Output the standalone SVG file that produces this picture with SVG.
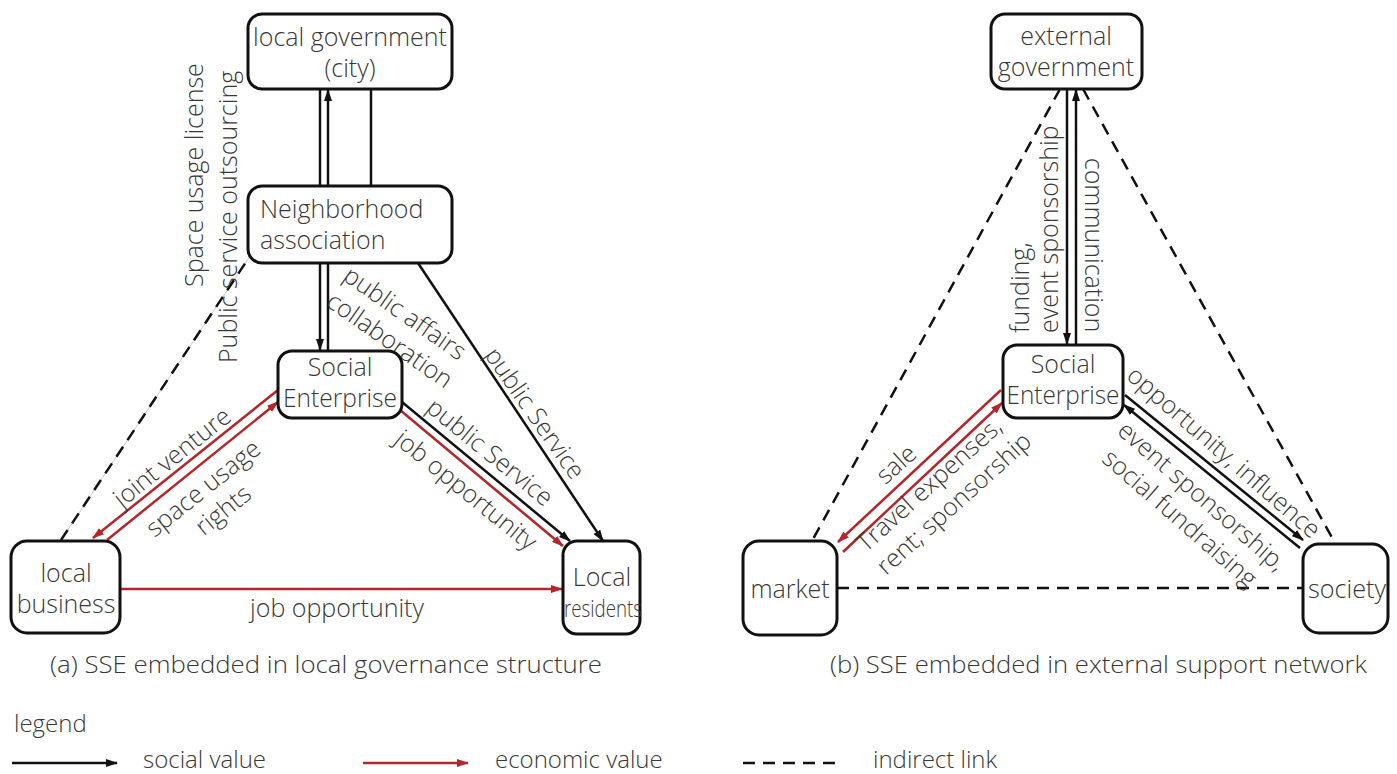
<svg xmlns="http://www.w3.org/2000/svg" width="1397" height="774" viewBox="0 0 1397 774">
<style>
  text{font-family:"Open Sans","Liberation Sans",sans-serif;font-size:25px;font-weight:300;fill:#383838}
  .c{text-anchor:middle}
  .box{fill:#fff;stroke:#111;stroke-width:3}
  .soc{stroke:#111;stroke-width:2.5;fill:none}
  .eco{stroke:#b5252a;stroke-width:2.5;fill:none}
  .ind{stroke:#111;stroke-width:2.5;fill:none;stroke-dasharray:12 8}
  .cap{font-size:23px}
  .lg{font-size:24px}
</style>
<defs>
  <marker id="ab" markerUnits="userSpaceOnUse" markerWidth="12" markerHeight="8" refX="11" refY="4" orient="auto">
    <path d="M0,0 L12,4 L0,8 z" fill="#111"/>
  </marker>
  <marker id="ar" markerUnits="userSpaceOnUse" markerWidth="12" markerHeight="8" refX="11" refY="4" orient="auto">
    <path d="M0,0 L12,4 L0,8 z" fill="#b5252a"/>
  </marker>
</defs>
<rect width="1397" height="774" fill="#fff"/>

<g id="connectors">
  <!-- (a) -->
  <line class="soc" x1="320" y1="89" x2="320" y2="350" marker-end="url(#ab)"/>
  <line class="soc" x1="328" y1="351" x2="328" y2="90" marker-end="url(#ab)"/>
  <line class="soc" x1="371" y1="89" x2="371" y2="186"/>
  <line x1="61" y1="540" x2="250" y2="256" stroke="#c8c8c8" stroke-width="1"/>
  <line class="ind" x1="61" y1="540" x2="250" y2="256"/>
  <line class="eco" x1="278" y1="390" x2="93" y2="538" marker-end="url(#ar)"/>
  <line class="eco" x1="107" y1="540" x2="278" y2="402" marker-end="url(#ar)"/>
  <line class="eco" x1="120" y1="589" x2="562" y2="589" marker-end="url(#ar)"/>
  <line class="soc" x1="402" y1="402" x2="570" y2="541" marker-end="url(#ab)"/>
  <line class="eco" x1="400" y1="410" x2="563" y2="546" marker-end="url(#ar)"/>
  <line class="soc" x1="418" y1="263" x2="603" y2="541" marker-end="url(#ab)"/>
  <!-- (b) -->
  <line class="soc" x1="1067" y1="89" x2="1067" y2="344" marker-end="url(#ab)"/>
  <line class="soc" x1="1076" y1="345" x2="1076" y2="90" marker-end="url(#ab)"/>
  <line class="ind" x1="1060" y1="89" x2="812" y2="541"/>
  <line class="ind" x1="1083" y1="89" x2="1335" y2="543"/>
  <line class="ind" x1="837" y1="588" x2="1303" y2="588"/>
  <line class="eco" x1="1001" y1="390" x2="838" y2="542" marker-end="url(#ar)"/>
  <line class="eco" x1="843" y1="552" x2="1002" y2="403" marker-end="url(#ar)"/>
  <line class="soc" x1="1125" y1="395" x2="1303" y2="540" marker-end="url(#ab)"/>
  <line class="soc" x1="1300" y1="548" x2="1124" y2="405" marker-end="url(#ab)"/>
</g>

<g id="edge-labels">
  <text transform="translate(203,287) rotate(-90)">Space usage license</text>
  <text transform="translate(237,363) rotate(-90)">Public service outsourcing</text>
  <text class="c" transform="translate(172,457) rotate(-38.7)" dy="0.35em">joint venture</text>
  <text class="c" transform="translate(203,488) rotate(-38.7)" dy="0.35em">space usage</text>
  <text class="c" transform="translate(223,510) rotate(-38.7)" dy="0.35em">rights</text>
  <text class="c" transform="translate(405,313) rotate(35)" dy="0.35em">public affairs</text>
  <text class="c" transform="translate(390,340) rotate(35)" dy="0.35em">collaboration</text>
  <text class="c" transform="translate(535,413) rotate(55)" dy="0.35em">public Service</text>
  <text class="c" transform="translate(490,452) rotate(39)" dy="0.35em">public Service</text>
  <text class="c" transform="translate(466,490) rotate(39)" dy="0.35em">job opportunity</text>
  <text class="c" x="337" y="617">job opportunity</text>

  <text transform="translate(1029,333) rotate(-90)">funding,</text>
  <text transform="translate(1058,333) rotate(-90)">event sponsorship</text>
  <text class="c" transform="translate(1085,245) rotate(90)">communication</text>
  <text class="c" transform="translate(896,464) rotate(-42)" dy="0.35em">sale</text>
  <text transform="translate(866,553) rotate(-42)">Travel expenses,</text>
  <text transform="translate(886,576) rotate(-42)">rent; sponsorship</text>
  <text class="c" transform="translate(1224,452) rotate(41)" dy="0.35em">opportunity, influence</text>
  <text class="c" transform="translate(1202,496) rotate(41)" dy="0.35em">event sponsorship,</text>
  <text class="c" transform="translate(1180,518) rotate(41)" dy="0.35em">social fundraising</text>
</g>

<g id="local-government">
  <rect class="box" x="248" y="14" width="204" height="75" rx="14"/>
  <text class="c" x="350" y="46">local government</text>
  <text class="c" x="350" y="77">(city)</text>
</g>
<g id="neighborhood-association">
  <rect class="box" x="248" y="186" width="204" height="77" rx="14"/>
  <text x="260" y="218">Neighborhood</text>
  <text x="260" y="249">association</text>
</g>
<g id="social-enterprise-a">
  <rect class="box" x="278" y="351" width="124" height="67" rx="14"/>
  <text class="c" x="340" y="376">Social</text>
  <text class="c" x="340" y="407" textLength="114" lengthAdjust="spacingAndGlyphs">Enterprise</text>
</g>
<g id="local-business">
  <rect class="box" x="11" y="541" width="109" height="92" rx="16"/>
  <text class="c" x="66" y="582">local</text>
  <text class="c" x="66" y="613">business</text>
</g>
<g id="local-residents">
  <rect class="box" x="563" y="541" width="77" height="93" rx="14"/>
  <text class="c" x="602" y="586">Local</text>
  <text class="c" x="603" y="617" style="font-size:24.5px" textLength="78" lengthAdjust="spacingAndGlyphs">residents</text>
</g>

<g id="external-government">
  <rect class="box" x="991" y="14" width="151" height="75" rx="14"/>
  <text class="c" x="1066" y="45">external</text>
  <text class="c" x="1066" y="76">government</text>
</g>
<g id="social-enterprise-b">
  <rect class="box" x="1003" y="345" width="120" height="73" rx="14"/>
  <text class="c" x="1063" y="373">Social</text>
  <text class="c" x="1063" y="404" textLength="113" lengthAdjust="spacingAndGlyphs">Enterprise</text>
</g>
<g id="market">
  <rect class="box" x="743" y="541" width="94" height="94" rx="16"/>
  <text class="c" x="790" y="598">market</text>
</g>
<g id="society">
  <rect class="box" x="1303" y="544" width="85" height="89" rx="16"/>
  <text class="c" x="1347" y="598" textLength="78" lengthAdjust="spacingAndGlyphs">society</text>
</g>

<g id="captions">
  <text class="cap" x="50" y="673" textLength="552" lengthAdjust="spacingAndGlyphs">(a) SSE embedded in local governance structure</text>
  <text class="cap" x="830" y="673" textLength="537" lengthAdjust="spacingAndGlyphs">(b) SSE embedded in external support network</text>
</g>

<g id="legend">
  <text class="lg" x="14" y="732">legend</text>
  <line class="soc" x1="12" y1="763" x2="117" y2="763" marker-end="url(#ab)"/>
  <text class="lg" x="143" y="768">social value</text>
  <line class="eco" x1="363" y1="763" x2="468" y2="763" marker-end="url(#ar)"/>
  <text class="lg" x="495" y="768">economic value</text>
  <line class="ind" x1="743" y1="763" x2="838" y2="763"/>
  <text class="lg" x="873" y="768">indirect link</text>
</g>
</svg>
